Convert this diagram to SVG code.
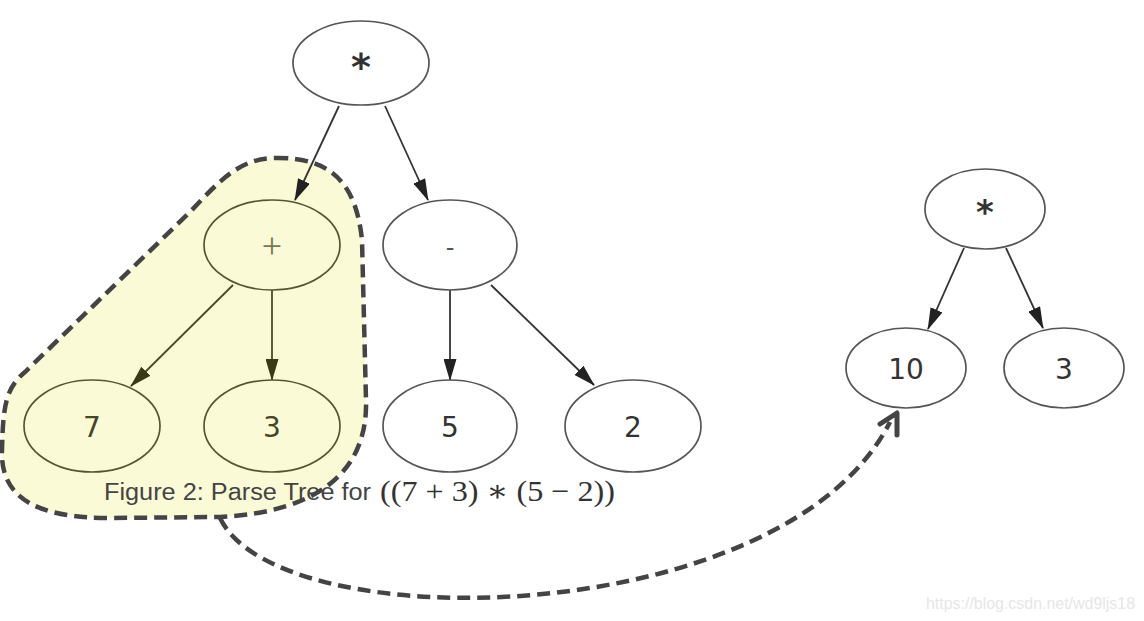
<svg xmlns="http://www.w3.org/2000/svg" width="1144" height="621" viewBox="0 0 1144 621">
<style>
.node ellipse{fill:none;stroke:#555;stroke-width:1.7}
.node text{font-family:"DejaVu Sans",sans-serif;font-size:28px;fill:#333;text-anchor:middle}
.in ellipse{stroke:#55552f}
.in text{fill:#45452a}
.edge{stroke:#333;stroke-width:1.8;fill:none;marker-end:url(#ah)}
.edge.in{stroke:#4a4a28;marker-end:url(#aho)}
.blobline{fill:none;stroke:#444;stroke-width:4.5;stroke-dasharray:13 7}
</style>
<defs>
<marker id="ah" markerWidth="22" markerHeight="13" refX="21" refY="6.5" orient="auto" markerUnits="userSpaceOnUse"><path d="M0,0 L22,6.5 L0,13 z" fill="#222"/></marker>
<marker id="aho" markerWidth="22" markerHeight="13" refX="21" refY="6.5" orient="auto" markerUnits="userSpaceOnUse"><path d="M0,0 L22,6.5 L0,13 z" fill="#3a3a18"/></marker>
</defs>
<rect width="1144" height="621" fill="#fff"/>
<path id="blobfill" d="M275 158 C330 157 356 182 362 240 L366 400 C368 470 320 512 220 517 L110 518 C40 518 0 500 2 450 C3 405 6 388 25 372 L190 212 C222 178 240 159 275 158 Z" fill="#fbfad6"/>
<g id="connectors">
<line class="edge" x1="339" y1="106" x2="295" y2="200"/>
<line class="edge" x1="385" y1="106" x2="428" y2="200"/>
<line class="edge in" x1="233" y1="285" x2="131" y2="386"/>
<line class="edge in" x1="272" y1="290" x2="272" y2="380"/>
<line class="edge" x1="450" y1="290" x2="450" y2="380"/>
<line class="edge" x1="491" y1="285" x2="594" y2="385"/>
<line class="edge" x1="964" y1="248" x2="928" y2="329"/>
<line class="edge" x1="1006" y1="248" x2="1043" y2="328"/>
</g>
<g id="n-times" class="node"><ellipse cx="361" cy="63" rx="68" ry="42"/><text x="361" y="80" style="font-size:38px;font-weight:bold">*</text></g>
<g id="n-plus" class="node in"><ellipse cx="272" cy="245" rx="68" ry="45"/><text x="272" y="258" style="font-family:'Liberation Serif',serif;font-size:36px;fill:#77774f">+</text></g>
<g id="n-minus" class="node"><ellipse cx="450" cy="245" rx="67" ry="45"/><text x="450" y="256" style="font-size:24px;fill:#555">-</text></g>
<g id="n-7" class="node in"><ellipse cx="92" cy="426" rx="68" ry="46"/><text x="92" y="437">7</text></g>
<g id="n-3" class="node in"><ellipse cx="272" cy="426" rx="68" ry="46"/><text x="272" y="437">3</text></g>
<g id="n-5" class="node"><ellipse cx="450" cy="426" rx="67" ry="46"/><text x="450" y="437">5</text></g>
<g id="n-2" class="node"><ellipse cx="633" cy="426" rx="68" ry="46"/><text x="633" y="437">2</text></g>
<g id="r-times" class="node"><ellipse cx="985" cy="209" rx="60" ry="40"/><text x="985" y="224" style="font-size:34px;font-weight:bold">*</text></g>
<g id="r-10" class="node"><ellipse cx="906" cy="368" rx="60" ry="40"/><text x="906" y="379">10</text></g>
<g id="r-3" class="node"><ellipse cx="1064" cy="368" rx="60" ry="40"/><text x="1064" y="379">3</text></g>
<g id="caption">
<text x="104" y="500" font-family="'Liberation Sans',Arial,sans-serif" font-size="23" fill="#444" textLength="267" lengthAdjust="spacingAndGlyphs">Figure 2: Parse Tree for</text>
<text x="380" y="501" font-family="'Liberation Serif','DejaVu Serif',serif" font-size="30" fill="#333" textLength="235" lengthAdjust="spacingAndGlyphs">((7 + 3) ∗ (5 − 2))</text>
</g>
<path id="blob" class="blobline" d="M275 158 C330 157 356 182 362 240 L366 400 C368 470 320 512 220 517 L110 518 C40 518 0 500 2 450 C3 405 6 388 25 372 L190 212 C222 178 240 159 275 158 Z"/>
<g id="bigarrow">
<path class="blobline" d="M220 518 C280 642 785 630 890 422"/>
<polyline points="880,424 897,413 897,435" fill="none" stroke="#444" stroke-width="5" stroke-linecap="round" stroke-linejoin="round"/>
</g>
<text x="926" y="609" font-family="'Liberation Sans',Arial,sans-serif" font-size="16" fill="#e6e6e6" textLength="209" lengthAdjust="spacingAndGlyphs">https://blog.csdn.net/wd9ljs18</text>
</svg>
